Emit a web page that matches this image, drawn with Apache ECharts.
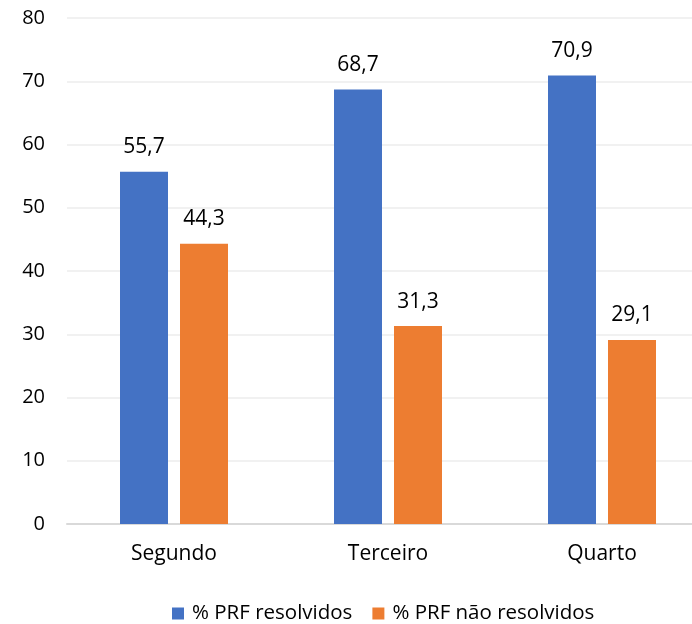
<!DOCTYPE html>
<html>
<head>
<meta charset="utf-8">
<script src="https://cdn.jsdelivr.net/npm/echarts@6/dist/echarts.min.js"></script>
<style>
  html, body { margin: 0; padding: 0; background: #fff; overflow: hidden; }
  /* drawing surface is a bit wider than the window so the last category runs off the edge */
  #chart { width: 720px; height: 624px; }
</style>
</head>
<body>
<div id="chart"></div>
<script>
const categories = ['Segundo', 'Terceiro', 'Quarto'];
const resolvidos = [55.7, 68.7, 70.9];
const naoResolvidos = [44.3, 31.3, 29.1];
const seriesNames = ['% PRF resolvidos', '% PRF não resolvidos'];

const FONT = '"Open Sans", sans-serif';
const fmt = v => String(v).replace('.', ',');

const chart = echarts.init(document.getElementById('chart'));

function barSeries(name, data, color) {
  return {
    name: name,
    type: 'bar',
    data: data,
    barWidth: 48,
    barGap: '25%',
    itemStyle: { color: color },
    label: {
      show: true,
      position: 'top',
      distance: 14,
      color: '#000',
      fontFamily: FONT,
      fontSize: 21,
      formatter: p => fmt(p.value)
    }
  };
}

chart.setOption({
  animation: false,
  grid: { left: 67, right: 11, top: 18, bottom: 100, containLabel: false },
  legend: {
    top: 598,
    left: 167,
    itemWidth: 12,
    itemHeight: 12,
    itemGap: 20,
    icon: 'rect',
    textStyle: { fontFamily: FONT, fontSize: 20.5, color: '#000', padding: [0, 0, 0, 3] },
    data: seriesNames
  },
  xAxis: {
    type: 'category',
    data: categories,
    axisLine: { lineStyle: { color: '#d9d9d9', width: 2 } },
    axisTick: { show: false },
    axisLabel: { color: '#000', fontFamily: FONT, fontSize: 21, margin: 20 }
  },
  yAxis: {
    type: 'value',
    min: 0,
    max: 80,
    interval: 10,
    axisLine: { show: false },
    axisTick: { show: false },
    splitLine: { lineStyle: { color: '#ececec', width: 1.5 } },
    axisLabel: { color: '#000', fontFamily: FONT, fontSize: 20, margin: 22 }
  },
  series: [
    barSeries(seriesNames[0], resolvidos, '#4472c4'),
    barSeries(seriesNames[1], naoResolvidos, '#ed7d31')
  ]
});
</script>
</body>
</html>
